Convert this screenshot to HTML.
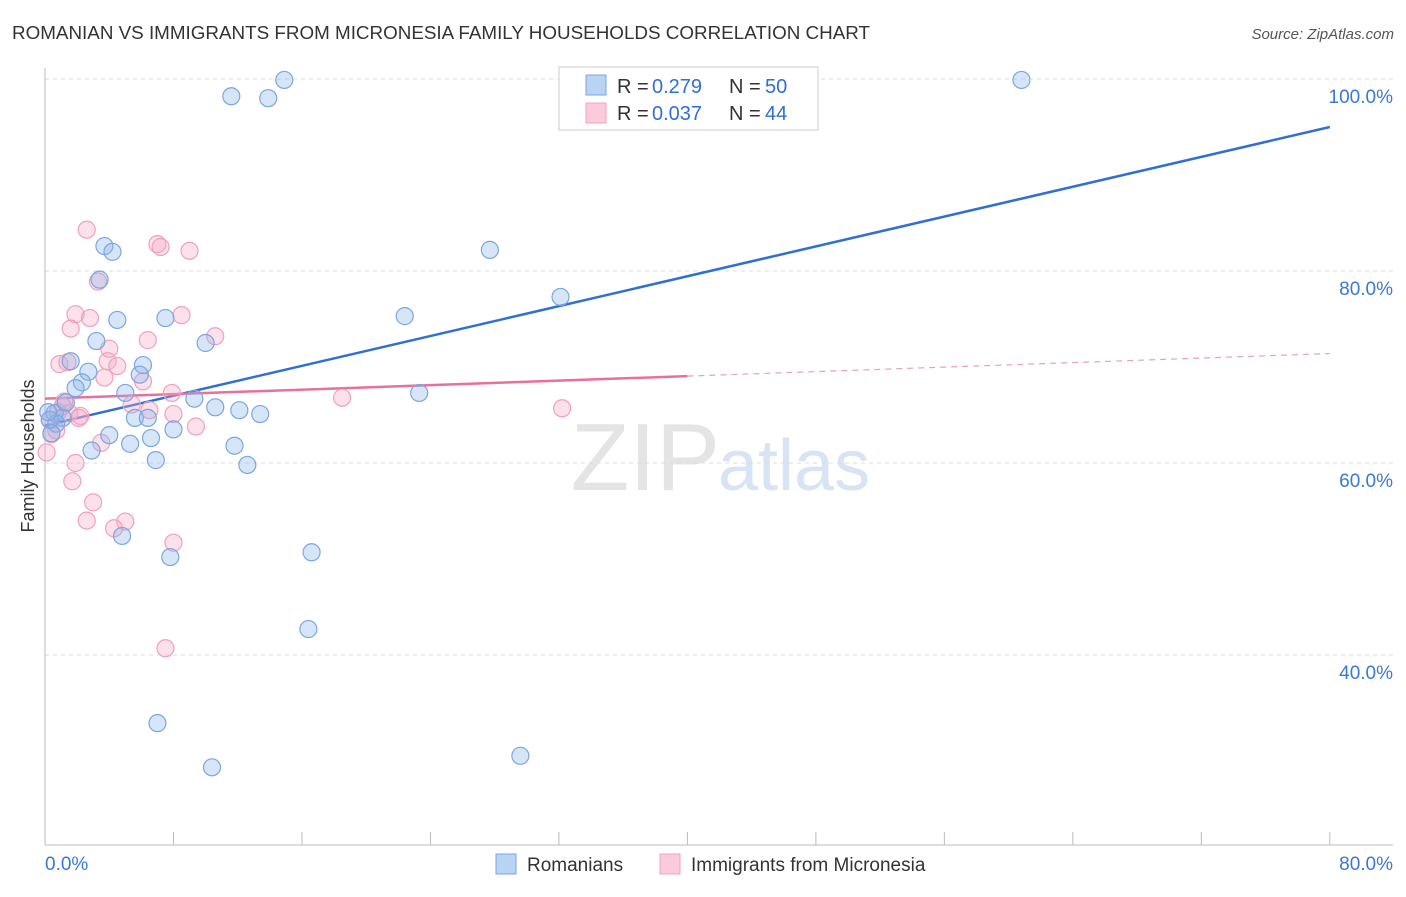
<!DOCTYPE html>
<html><head><meta charset="utf-8"><style>
body{margin:0;background:#fff;font-family:"Liberation Sans",sans-serif;}
svg text{font-family:"Liberation Sans",sans-serif;}
</style></head><body>
<svg id="chart" width="1406" height="892" xmlns="http://www.w3.org/2000/svg">
<text x="12" y="39" font-size="18" fill="#333" textLength="858" lengthAdjust="spacingAndGlyphs">ROMANIAN VS IMMIGRANTS FROM MICRONESIA FAMILY HOUSEHOLDS CORRELATION CHART</text>
<text x="1394" y="39" font-size="15" fill="#555" font-style="italic" text-anchor="end">Source: ZipAtlas.com</text>
<text x="720" y="490" font-size="96" fill="#e4e4e4" font-family="Liberation Serif" text-anchor="end">ZIP</text>
<text x="718" y="490" font-size="72" fill="#d8e4f4">atlas</text>
<text transform="translate(34,456) rotate(-90)" font-size="18" fill="#333" text-anchor="middle">Family Households</text>
<g id="grid"></g><g id="axes"></g><g id="trends"></g><g id="pts"></g>
<g>
<rect x="559" y="67" width="259" height="63" fill="#fff" stroke="#ccc"/>
<rect x="586" y="75" width="20" height="20" fill="#b9d3f5" stroke="#7aa6e0"/>
<rect x="586" y="103" width="20" height="20" fill="#fbcadb" stroke="#f0a0bd"/>
<text x="617" y="93" font-size="20" fill="#333">R =</text>
<text x="652" y="93" font-size="20" fill="#2f6fd6">0.279</text>
<text x="729" y="93" font-size="20" fill="#333">N =</text>
<text x="765" y="93" font-size="20" fill="#2f6fd6">50</text>
<text x="617" y="120" font-size="20" fill="#333">R =</text>
<text x="652" y="120" font-size="20" fill="#2f6fd6">0.037</text>
<text x="729" y="120" font-size="20" fill="#333">N =</text>
<text x="765" y="120" font-size="20" fill="#2f6fd6">44</text>
</g>
<g>
<rect x="496" y="854" width="20" height="20" fill="#b9d3f5" stroke="#7aa6e0"/>
<text x="527" y="871" font-size="19" fill="#333">Romanians</text>
<rect x="660" y="854" width="20" height="20" fill="#fbcadb" stroke="#f0a0bd"/>
<text x="691" y="871" font-size="19" fill="#333">Immigrants from Micronesia</text>
</g>
</svg>
<script>
const blueX=[14.9,11.6,13.9,60.8,3.7,4.2,27.7,3.4,32.1,4.5,7.5,22.4,3.2,10.0,1.6,6.1,2.7,5.9,2.3,1.9,5.0,9.3,23.3,10.6,12.1,13.4,0.6,1.1,5.6,6.4,0.7,8.0,0.4,4.0,6.6,5.3,11.8,2.9,6.9,12.6,4.8,7.8,16.6,16.4,7.0,10.4,29.6,0.3,1.3,0.2];
const blueY=[99.9,98.2,98.0,99.9,82.6,82.0,82.2,79.1,77.3,74.9,75.1,75.3,72.7,72.5,70.6,70.2,69.5,69.2,68.4,67.8,67.3,66.7,67.3,65.8,65.5,65.1,65.2,64.7,64.7,64.7,64.1,63.5,63.1,62.9,62.6,62.0,61.8,61.3,60.3,59.8,52.4,50.2,50.7,42.7,32.9,28.3,29.5,64.5,66.3,65.3];
const pinkX=[2.6,7.0,7.2,9.0,3.3,1.9,8.5,2.8,1.6,10.6,6.4,4.0,0.9,1.4,3.9,4.5,3.7,6.1,7.9,18.5,32.2,1.2,5.4,6.5,1.5,2.2,8.0,9.4,0.4,3.5,0.1,1.9,1.7,3.0,2.6,5.0,4.3,8.0,7.5,0.7,1.1,0.3,0.8,2.1];
const pinkY=[84.3,82.8,82.5,82.1,78.9,75.5,75.4,75.1,74.0,73.2,72.8,71.9,70.3,70.5,70.6,70.1,68.9,68.5,67.3,66.8,65.7,66.4,66.1,65.5,65.2,64.9,65.1,63.8,63.0,62.1,61.1,60.0,58.1,55.9,54.0,53.9,53.2,51.7,40.7,63.4,65.9,64.5,65.3,64.7];
const blueTrend=[63.9,95.0];
const pinkTrend=[66.7,71.4];
const yTicks=[40,60,80,100];
const yTickLabels=["40.0%","60.0%","80.0%","100.0%"];
const xTickLabels=["0.0%","80.0%"];
const NS="http://www.w3.org/2000/svg";
const X=v=>45+v*16.06, Y=v=>79+(100-v)*9.6;
function mk(t,a,p){const e=document.createElementNS(NS,t);for(const k in a)e.setAttribute(k,a[k]);document.getElementById(p).appendChild(e);return e;}
yTicks.forEach((t,i)=>{
 const g=mk('line',{x1:45,x2:1393,y1:Y(t),y2:Y(t),stroke:'#ddd','stroke-dasharray':'4,4'},'grid');
 
 
 const l=mk('text',{x:1393,y:Y(t)+24,'font-size':19,fill:'#3a78d6','text-anchor':'end'},'grid');
 l.textContent=yTickLabels[i];
 
 
});
const ya=mk('line',{x1:45,x2:45,y1:68,y2:845,stroke:'#bbb'},'axes');


const xa=mk('line',{x1:45,x2:1393,y1:845,y2:845,stroke:'#bbb'},'axes');


for(let i=0;i<=10;i++){const t=mk('line',{x1:X(i*8),x2:X(i*8),y1:832,y2:845,stroke:'#bbb'},'axes');
 
 }
const xl0=mk('text',{x:45,y:870,'font-size':19,fill:'#3a78d6'},'axes');xl0.textContent=xTickLabels[0];


const xl1=mk('text',{x:1393,y:870,'font-size':19,fill:'#3a78d6','text-anchor':'end'},'axes');xl1.textContent=xTickLabels[1];


const bt=mk('line',{x1:X(0),y1:Y(blueTrend[0]),x2:X(80),y2:Y(blueTrend[1]),stroke:'#2f6fd6','stroke-width':2.5},'trends');


const pm=pinkTrend[0]+(pinkTrend[1]-pinkTrend[0])*0.5;
const pt=mk('line',{x1:X(0),y1:Y(pinkTrend[0]),x2:X(40),y2:Y(pm),stroke:'#e8709a','stroke-width':2.5},'trends');


const pd=mk('line',{x1:X(40),y1:Y(pm),x2:X(80),y2:Y(pinkTrend[1]),stroke:'#e8a0ba','stroke-width':1.2,'stroke-dasharray':'6,5'},'trends');


pinkX.forEach((v,i)=>{const c=mk('circle',{cx:X(v),cy:Y(pinkY[i]),r:8.5,fill:'rgba(246,170,198,0.35)',stroke:'#f0a0bd','stroke-width':1.2},'pts');
 
 });
blueX.forEach((v,i)=>{const c=mk('circle',{cx:X(v),cy:Y(blueY[i]),r:8.5,fill:'rgba(140,180,235,0.35)',stroke:'#7aa6e0','stroke-width':1.2},'pts');
 
 });
</script>
</body></html>
